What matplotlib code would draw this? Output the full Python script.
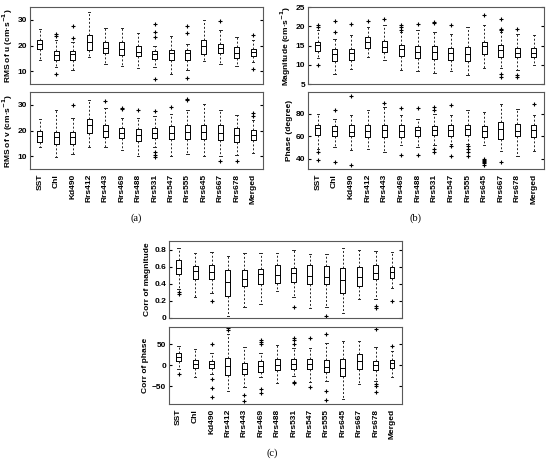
import numpy as np
import matplotlib
matplotlib.use("Agg")
import matplotlib.pyplot as plt

plt.rcParams['font.family'] = ['Liberation Sans', 'DejaVu Sans']

names = ["SST", "Chl", "Kd490", "Rrs412", "Rrs443", "Rrs469", "Rrs488",
         "Rrs531", "Rrs547", "Rrs555", "Rrs645", "Rrs667", "Rrs678", "Merged"]

# (a) RMS of u
u_lo  = [14.3, 11.5, 10.6, 15.5, 13.0, 12.0, 11.3, 11.7, 8.8, 10.6, 13.9, 13.0, 12.1, 13.6]
u_q1  = [18.8, 14.3, 14.3, 18.4, 17.2, 16.2, 15.8, 14.9, 14.3, 14.5, 16.6, 17.1, 15.3, 15.8]
u_med = [20.7, 16.5, 16.8, 21.4, 19.0, 18.8, 17.5, 16.8, 17.1, 17.1, 19.7, 19.2, 17.2, 17.5]
u_q3  = [22.3, 17.9, 17.9, 24.3, 21.4, 21.4, 19.8, 17.9, 18.4, 18.1, 22.0, 20.7, 19.4, 18.8]
u_hi  = [26.5, 22.0, 21.4, 33.0, 26.9, 26.9, 25.0, 20.0, 23.9, 20.7, 30.0, 26.0, 23.3, 22.0]
u_fl  = [[], [24.5, 23.6, 9.1], [27.5, 23.0], [], [], [], [],
         [28.5, 25.2, 23.5, 6.9], [], [27.8, 25.0, 7.5], [], [29.7], [], [24.3, 11.0]]

# (a) RMS of v
v_lo  = [13.6, 9.8, 10.7, 13.7, 13.7, 12.4, 10.2, 13.8, 10.2, 11.0, 10.0, 10.0, 10.5, 11.2]
v_q1  = [15.7, 14.6, 14.6, 18.9, 17.6, 17.0, 16.0, 17.0, 16.6, 16.6, 16.6, 16.4, 15.7, 16.4]
v_med = [18.0, 17.6, 17.6, 22.2, 20.0, 18.9, 18.3, 19.2, 19.0, 19.6, 19.6, 19.2, 18.3, 18.3]
v_q3  = [19.9, 19.6, 19.6, 24.4, 22.2, 21.1, 20.5, 20.9, 21.8, 22.2, 22.2, 22.2, 21.2, 20.3]
v_hi  = [24.5, 28.0, 24.8, 31.9, 28.7, 24.8, 24.8, 25.5, 26.5, 28.0, 30.3, 28.0, 26.1, 24.2]
v_fl  = [[], [], [30.0], [], [31.7], [28.9, 28.5], [28.0], [27.7, 11.8, 10.5, 9.8],
         [29.0], [32.3, 32.0], [], [8.3], [8.3], [26.8, 25.7]]

# (b) Magnitude
m_lo  = [11.7, 7.7, 9.0, 12.0, 11.3, 8.7, 8.5, 7.8, 8.3, 7.4, 9.1, 9.1, 8.7, 10.0]
m_q1  = [13.7, 11.1, 11.3, 14.5, 13.4, 12.3, 11.7, 11.4, 11.3, 11.1, 12.8, 12.1, 12.0, 12.0]
m_med = [15.1, 12.7, 13.0, 16.0, 14.7, 14.0, 13.4, 13.4, 13.0, 12.8, 14.9, 13.8, 13.2, 13.2]
m_q3  = [16.0, 14.0, 14.0, 17.1, 16.2, 15.1, 14.9, 14.9, 14.5, 14.7, 16.0, 15.1, 14.3, 14.3]
m_hi  = [19.0, 16.8, 17.7, 19.8, 20.3, 18.6, 19.0, 18.4, 18.0, 19.8, 20.3, 18.6, 18.1, 17.7]
m_fl  = [[20.3, 19.8, 10.0], [21.4, 18.6], [20.5], [21.4], [21.8], [20.3, 19.7, 19.0],
         [20.5], [21.2, 20.9], [20.3], [], [22.9], [22.0, 19.4, 19.0, 7.7, 6.8],
         [19.2, 7.4, 6.8], []]

# (b) Phase
p_lo  = [49.0, 50.4, 48.0, 49.0, 46.0, 52.0, 50.4, 52.0, 53.3, 53.3, 52.7, 47.4, 43.0, 47.4]
p_q1  = [60.7, 59.9, 60.0, 59.3, 59.3, 59.3, 60.0, 60.7, 60.0, 60.7, 59.3, 57.8, 60.0, 59.3]
p_med = [67.0, 64.5, 63.7, 64.6, 65.2, 64.3, 65.2, 65.8, 65.2, 66.7, 64.6, 66.7, 64.6, 65.2]
p_q3  = [69.6, 68.7, 69.6, 69.6, 69.6, 69.6, 68.1, 68.7, 69.6, 70.2, 68.7, 72.6, 70.5, 69.6]
p_hi  = [80.0, 75.6, 78.5, 83.0, 86.0, 78.5, 75.6, 80.0, 78.5, 83.0, 81.5, 88.9, 84.4, 78.5]
p_fl  = [[46.0, 39.4], [83.6, 37.0], [95.7, 34.7], [], [89.5], [85.3, 43.8], [85.0, 43.8],
         [86.0, 83.0, 49.0, 46.0], [87.4, 51.3, 42.4], [51.3, 49.0, 46.0, 43.0],
         [40.0, 39.0, 38.0, 37.0, 36.0, 35.0], [37.0], [], [88.9]]

# (c) Corr of magnitude
cm_lo  = [0.336, 0.247, 0.297, 0.026, 0.123, 0.162, 0.316, 0.24, 0.115, 0.13, 0.053, 0.22, 0.22, 0.347]
cm_q1  = [0.518, 0.46, 0.452, 0.258, 0.375, 0.40, 0.413, 0.425, 0.40, 0.40, 0.289, 0.375, 0.452, 0.463]
cm_med = [0.587, 0.549, 0.537, 0.421, 0.452, 0.51, 0.498, 0.529, 0.49, 0.483, 0.444, 0.479, 0.529, 0.541]
cm_q3  = [0.676, 0.607, 0.614, 0.556, 0.56, 0.567, 0.618, 0.587, 0.618, 0.607, 0.587, 0.595, 0.618, 0.595]
cm_hi  = [0.82, 0.754, 0.773, 0.73, 0.76, 0.754, 0.76, 0.79, 0.75, 0.75, 0.82, 0.80, 0.78, 0.77]
cm_fl  = [[0.30, 0.28], [], [0.2], [], [], [], [], [0.13], [], [0.019], [], [],
          [0.135, 0.115], [0.2]]
cm_ticks = [0, 0.2, 0.4, 0.6, 0.8]
cm_ticklabels = ['0', '0.2', '0.4', '0.6', '0.8']

# (c) Corr of phase
cp_lo  = [-9.5, -29, -21, -61, -51, -29, -43.6, -25, -39.7, -37, -81, -45, -37, -29]
cp_q1  = [10.3, -5.6, -5.6, -23.8, -21.4, -15.9, -11.9, -7.9, -7.9, -15.9, -25.4, -9.5, -11.1, -5.6]
cp_med = [20.6, 4.0, 2.4, -1.6, -9.5, -1.6, 0.0, 2.4, 2.4, -3.2, -7.0, 10.3, 0.8, 4.8]
cp_q3  = [30.0, 12.7, 10.3, 18.3, 6.3, 10.3, 15.9, 14.3, 15.9, 12.7, 14.3, 26.2, 10.3, 12.7]
cp_hi  = [46, 39.7, 30, 74, 44.4, 30, 49, 42, 42, 54, 58, 58, 43.7, 34]
cp_fl  = [[-21], [], [50, -33, -55, -75], [90, 84], [-71, -85], [60, 55.6, 50, -57, -67], [],
          [66, 60, 52, -41, -43.6], [66, -51], [74, -61, -82.5], [], [], [87, -45, -49, -65], [46]]


def make_stats(lo, q1, med, q3, hi, fl):
    return [dict(whislo=a, q1=b, med=c, q3=d, whishi=e, fliers=f)
            for a, b, c, d, e, f in zip(lo, q1, med, q3, hi, fl)]


def draw(rect, stats, ylim, yticks, ylabel, labels=False, yticklabels=None):
    ax = fig.add_axes(rect)
    ax.bxp(stats, widths=0.3, showfliers=True, capwidths=0.15,
           boxprops=dict(color='black', linewidth=0.7),
           medianprops=dict(color='black', linewidth=0.7),
           whiskerprops=dict(color='0.15', linewidth=0.7, linestyle=(0, (2, 2))),
           capprops=dict(color='0.15', linewidth=0.7),
           flierprops=dict(marker='+', markeredgecolor='black', markersize=3.5,
                           markeredgewidth=0.8))
    ax.set_xlim(0.4, len(stats) + 0.6)
    ax.set_ylim(*ylim)
    ax.set_yticks(yticks)
    if yticklabels is not None:
        ax.set_yticklabels(yticklabels)
    ax.tick_params(axis='y', direction='in', length=2, labelsize=6, right=True, pad=2)
    ax.tick_params(axis='x', length=0)
    for lbl in ax.get_yticklabels():
        lbl.set_fontweight('bold')
    if labels:
        ax.set_xticks(range(1, len(names) + 1))
        ax.set_xticklabels(names, rotation=90, fontsize=6, fontweight='bold')
    else:
        ax.set_xticks([])
    ax.set_ylabel(ylabel, fontsize=6, fontweight='bold', labelpad=2)
    for s in ax.spines.values():
        s.set_color('0.35')
        s.set_linewidth(0.8)
    return ax


fig = plt.figure(figsize=(5.5, 4.62), dpi=100)

w1 = 0.4236
h = 0.1667
unit = ' (cm·s$^{\\mathbf{-1}}$)'
draw([0.0545, 0.818, w1, h], make_stats(u_lo, u_q1, u_med, u_q3, u_hi, u_fl),
     (5, 35), [10, 20, 30], 'RMS of u' + unit)
draw([0.0545, 0.634, w1, h], make_stats(v_lo, v_q1, v_med, v_q3, v_hi, v_fl),
     (5, 35), [10, 20, 30], 'RMS of v' + unit, labels=True)

draw([0.56, 0.818, 0.429, h], make_stats(m_lo, m_q1, m_med, m_q3, m_hi, m_fl),
     (5, 25), [5, 10, 15, 20, 25], 'Magnitude' + unit)
draw([0.56, 0.634, 0.429, h], make_stats(p_lo, p_q1, p_med, p_q3, p_hi, p_fl),
     (31, 99), [40, 60, 80], 'Phase (degree)', labels=True)

draw([0.307, 0.3117, w1, h], make_stats(cm_lo, cm_q1, cm_med, cm_q3, cm_hi, cm_fl),
     (0, 0.9), cm_ticks, 'Corr of magnitude', yticklabels=cm_ticklabels)
draw([0.307, 0.1255, w1, h], make_stats(cp_lo, cp_q1, cp_med, cp_q3, cp_hi, cp_fl),
     (-93, 92), [-50, 0, 50], 'Corr of phase', labels=True)

for x, y, t in [(0.247, 0.528, '(a)'), (0.755, 0.528, '(b)'), (0.495, 0.019, '(c)')]:
    fig.text(x, y, t, ha='center', va='center', fontsize=7.5,
             family=['Liberation Serif', 'DejaVu Serif'])

fig.savefig('out.png', dpi=100)
